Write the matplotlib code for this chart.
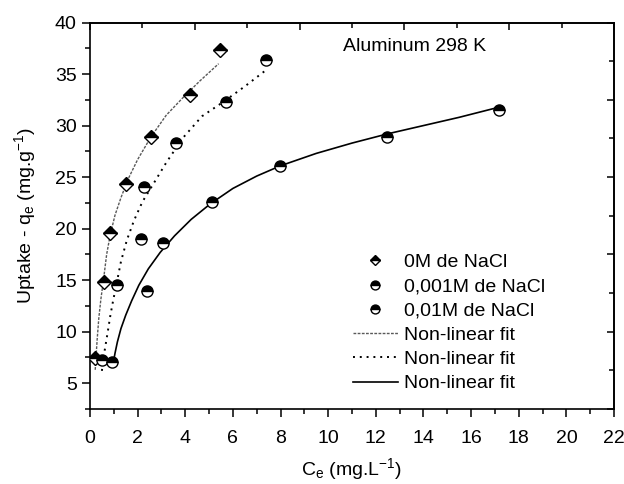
import matplotlib
matplotlib.use("Agg")
import matplotlib.pyplot as plt

plt.rcParams["font.family"] = ["Liberation Sans", "DejaVu Sans"]
plt.rcParams["mathtext.default"] = "regular"

# measured uptake at 298 K
ce_0M = [0.22, 0.58, 0.83, 1.53, 2.56, 4.20, 5.46]
qe_0M = [7.45, 14.8, 19.6, 24.3, 28.9, 33.0, 37.3]

ce_0001M = [0.52, 1.15, 2.13, 2.27, 3.60, 5.70, 7.39]
qe_0001M = [7.3, 14.55, 19.0, 24.0, 28.3, 32.3, 36.4]

ce_001M = [0.91, 2.39, 3.08, 5.11, 7.98, 12.49, 17.17]
qe_001M = [7.1, 13.9, 18.6, 22.6, 26.1, 28.9, 31.55]

# non-linear fit curves
fit_0M_x = [0.22, 0.25, 0.30, 0.37, 0.46, 0.56, 0.70, 0.85, 1.05, 1.30, 1.60,
            2.00, 2.56, 3.20, 3.90, 4.60, 5.40]
fit_0M_y = [6.3, 7.4, 9.2, 11.3, 13.2, 14.9, 17.5, 19.4, 21.3, 23.0, 24.8,
            26.7, 28.9, 31.0, 32.7, 34.3, 36.0]

fit_0001M_x = [0.50, 0.56, 0.64, 0.74, 0.85, 0.97, 1.12, 1.30, 1.55, 1.85, 2.20,
               2.65, 3.20, 3.90, 4.70, 5.60, 6.50, 7.40]
fit_0001M_y = [6.2, 7.4, 8.5, 9.9, 11.5, 13.0, 14.7, 16.8, 18.9, 20.8, 22.6,
               24.3, 26.4, 28.8, 30.9, 32.3, 33.8, 35.4]

fit_001M_x = [0.98, 1.05, 1.15, 1.30, 1.50, 1.75, 2.05, 2.45, 2.95, 3.55, 4.25,
              5.05, 6.00, 7.00, 8.00, 9.50, 11.00, 12.50, 14.00, 15.50, 17.20]
fit_001M_y = [7.0, 7.9, 9.0, 10.3, 11.6, 13.0, 14.5, 16.1, 17.7, 19.3, 20.9,
              22.4, 23.9, 25.1, 26.1, 27.3, 28.3, 29.2, 30.0, 30.8, 31.8]

fig = plt.figure(figsize=(6.24, 4.84), dpi=100)
ax = fig.add_axes([0.1442, 0.155, 0.8398, 0.7985])

half = dict(linestyle="none", fillstyle="top", markerfacecolor="black",
            markerfacecoloralt="white", markeredgecolor="black",
            markeredgewidth=1.0, zorder=3)
ax.plot(ce_0M, qe_0M, marker="D", markersize=7, label="0M de NaCl", **half)
ax.plot(ce_0001M, qe_0001M, marker="o", markersize=8, label="0,001M de NaCl", **half)
ax.plot(ce_001M, qe_001M, marker="o", markersize=8, label="0,01M de NaCl", **half)

ax.plot(fit_0M_x, fit_0M_y, color="0.35", lw=1.0, linestyle=(0, (2, 1)),
        label="Non-linear fit")
ax.plot(fit_0001M_x, fit_0001M_y, color="black", lw=1.4, linestyle=(0, (1, 2.5)),
        label="Non-linear fit")
ax.plot(fit_001M_x, fit_001M_y, color="black", lw=1.2, label="Non-linear fit")

ax.set_xlim(0, 22)
ax.set_ylim(2.5, 40)
ax.set_xticks(range(0, 23, 2))
ax.set_xticks(range(1, 22, 2), minor=True)
ax.set_yticks(range(5, 41, 5))
ax.set_yticks([2.5 + 5 * i for i in range(8)], minor=True)
ax.tick_params(which="both", direction="out", labelsize=14, width=1.1)
ax.tick_params(which="major", length=6)
ax.tick_params(which="minor", length=3.5)
ax.tick_params(axis="x", which="major", pad=9)
for s in ax.spines.values():
    s.set_linewidth(1.2)

# opposite axes carry ten even divisions
top = ax.secondary_xaxis("top")
top.set_xticks([0 + 4.4 * i for i in range(6)])
top.set_xticks([2.2 + 4.4 * i for i in range(5)], minor=True)
top.tick_params(which="both", direction="in", labeltop=False, width=1.1)
top.tick_params(which="major", length=5)
top.tick_params(which="minor", length=3.5)
top.spines["top"].set_linewidth(1.2)

right = ax.secondary_yaxis("right")
right.set_yticks([2.5 + 7.5 * i for i in range(6)])
right.set_yticks([6.25 + 7.5 * i for i in range(5)], minor=True)
right.tick_params(which="both", direction="in", labelright=False, width=1.1)
right.tick_params(which="major", length=5)
right.tick_params(which="minor", length=3.5)
right.spines["right"].set_linewidth(1.2)

ax.set_xlabel("C$_e$ (mg.L$^{-1}$)", fontsize=14)
ax.set_ylabel("Uptake - q$_e$ (mg.g$^{-1}$)", fontsize=14)
ax.xaxis.set_label_coords(0.5, -0.122)
ax.yaxis.set_label_coords(-0.099, 0.5)

ax.text(10.63, 37.65, "Aluminum 298 K", fontsize=14, ha="left", va="center")

ax.legend(loc="upper left", bbox_to_anchor=(0.502, 0.402), frameon=False,
          fontsize=14, borderpad=0, borderaxespad=0, handlelength=2.3,
          handletextpad=0.3, labelspacing=0.34, markerscale=0.8)

plt.savefig("out.png", dpi=100)
